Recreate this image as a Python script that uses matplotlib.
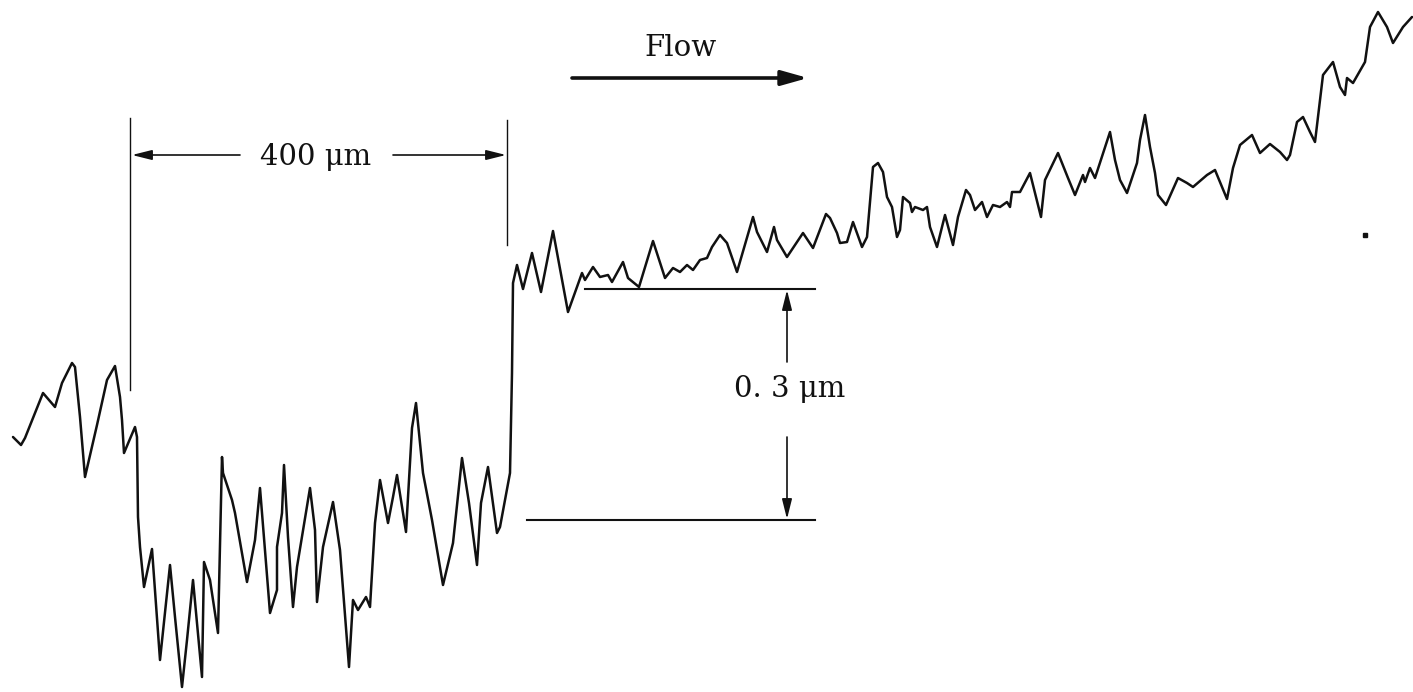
import matplotlib
matplotlib.use("Agg")
import matplotlib.pyplot as plt

# Surface profile trace (drawing units: horizontal position, vertical position measured downward)
profile_x = [13, 21, 25, 43, 55, 62, 72, 75, 80, 85, 97, 107, 115, 120, 122, 124, 135, 137, 138, 140,
             144, 152, 160, 170, 175, 182, 187, 193, 202, 204, 210, 218, 222, 223, 232, 235, 247, 255, 260, 270,
             277, 277, 282, 284, 288, 293, 297, 310, 315, 317, 323, 333, 340, 349, 353, 358, 366, 370, 375, 380,
             388, 393, 397, 406, 412, 416, 423, 432, 443, 453, 462, 469, 477, 481, 488, 497, 500, 510, 512, 513,
             517, 523, 532, 541, 553, 568, 582, 585, 593, 600, 608, 612, 623, 628, 639, 653, 665, 673, 680, 687,
             693, 700, 707, 712, 720, 727, 737, 753, 757, 767, 774, 777, 787, 803, 813, 826, 830, 837, 840, 847,
             853, 862, 867, 873, 878, 883, 887, 892, 897, 900, 903, 910, 912, 915, 923, 927, 930, 937, 945, 953,
             958, 966, 970, 975, 982, 987, 993, 1000, 1007, 1010, 1012, 1020, 1030, 1041, 1045, 1058, 1068, 1075, 1083, 1085,
             1090, 1095, 1110, 1115, 1120, 1127, 1137, 1140, 1145, 1150, 1155, 1158, 1166, 1178, 1187, 1193, 1207, 1215, 1227, 1233,
             1240, 1252, 1260, 1270, 1280, 1287, 1290, 1297, 1303, 1310, 1315, 1323, 1333, 1340, 1345, 1347, 1353, 1365, 1370, 1378,
             1387, 1393, 1403, 1412]
profile_y = [437, 445, 438, 393, 407, 383, 363, 367, 417, 477, 425, 380, 366, 397, 420, 453, 427, 437, 517, 547,
             587, 549, 660, 565, 617, 687, 640, 580, 677, 562, 580, 633, 457, 473, 500, 513, 582, 540, 488, 613,
             590, 547, 513, 465, 537, 607, 567, 488, 530, 602, 547, 502, 550, 667, 600, 610, 597, 607, 523, 480,
             523, 497, 475, 532, 428, 403, 473, 520, 585, 543, 458, 503, 565, 503, 467, 533, 527, 473, 373, 283,
             265, 289, 253, 292, 231, 312, 273, 280, 267, 277, 275, 282, 262, 278, 287, 241, 278, 268, 272, 265,
             270, 260, 258, 247, 235, 243, 272, 217, 232, 252, 227, 240, 257, 233, 248, 214, 218, 233, 243, 242,
             222, 247, 237, 167, 163, 172, 197, 207, 237, 230, 197, 203, 212, 207, 210, 207, 227, 247, 215, 245,
             217, 190, 195, 210, 202, 217, 205, 207, 202, 207, 192, 192, 173, 217, 180, 153, 178, 195, 175, 182,
             168, 178, 132, 160, 180, 193, 163, 140, 115, 147, 173, 195, 205, 178, 183, 187, 175, 170, 199, 168,
             145, 135, 153, 144, 152, 160, 155, 122, 117, 132, 142, 75, 62, 87, 95, 78, 83, 62, 27, 12,
             27, 43, 27, 17]

label_width = "400 \u03bcm"
label_height = "0. 3 \u03bcm"
label_flow = "Flow"

W, H = 1413, 692
fig = plt.figure(figsize=(W / 100, H / 100), dpi=100)
ax = fig.add_axes([0, 0, 1, 1])
ax.set_xlim(0, W)
ax.set_ylim(H, 0)
ax.axis("off")

ink = "#111111"
ax.plot(profile_x, profile_y, color=ink, lw=1.8, solid_joinstyle="round", solid_capstyle="round")

font = dict(family=["DejaVu Serif"], color=ink, fontsize=21)

# Flow arrow
ax.annotate("", xy=(808, 78), xytext=(572, 78),
            arrowprops=dict(arrowstyle="-|>,head_length=1.6,head_width=0.45", color=ink, lw=2.6,
                            shrinkA=0, shrinkB=0))
ax.text(680, 56, label_flow, ha="center", va="baseline", **font)

# 400 um dimension
ax.plot([130, 130], [118, 390], color=ink, lw=1.0)
ax.plot([507, 507], [120, 245], color=ink, lw=1.0)
ax.annotate("", xy=(132, 155), xytext=(240, 155),
            arrowprops=dict(arrowstyle="-|>,head_length=1.2,head_width=0.3", color=ink, lw=1.2,
                            shrinkA=0, shrinkB=0))
ax.annotate("", xy=(506, 155), xytext=(393, 155),
            arrowprops=dict(arrowstyle="-|>,head_length=1.2,head_width=0.3", color=ink, lw=1.2,
                            shrinkA=0, shrinkB=0))
ax.text(316, 165, label_width, ha="center", va="baseline", **font)

# 0.3 um dimension
ax.plot([585, 815], [289, 289], color=ink, lw=1.5)
ax.plot([527, 815], [520, 520], color=ink, lw=1.5)
ax.annotate("", xy=(787, 290), xytext=(787, 362),
            arrowprops=dict(arrowstyle="-|>,head_length=1.2,head_width=0.3", color=ink, lw=1.2,
                            shrinkA=0, shrinkB=0))
ax.annotate("", xy=(787, 519), xytext=(787, 437),
            arrowprops=dict(arrowstyle="-|>,head_length=1.2,head_width=0.3", color=ink, lw=1.2,
                            shrinkA=0, shrinkB=0))
ax.text(790, 397, label_height, ha="center", va="baseline", **font)

ax.plot([1365], [235], marker="s", ms=2.5, color=ink)

fig.savefig("out.png", dpi=100, facecolor="white")
